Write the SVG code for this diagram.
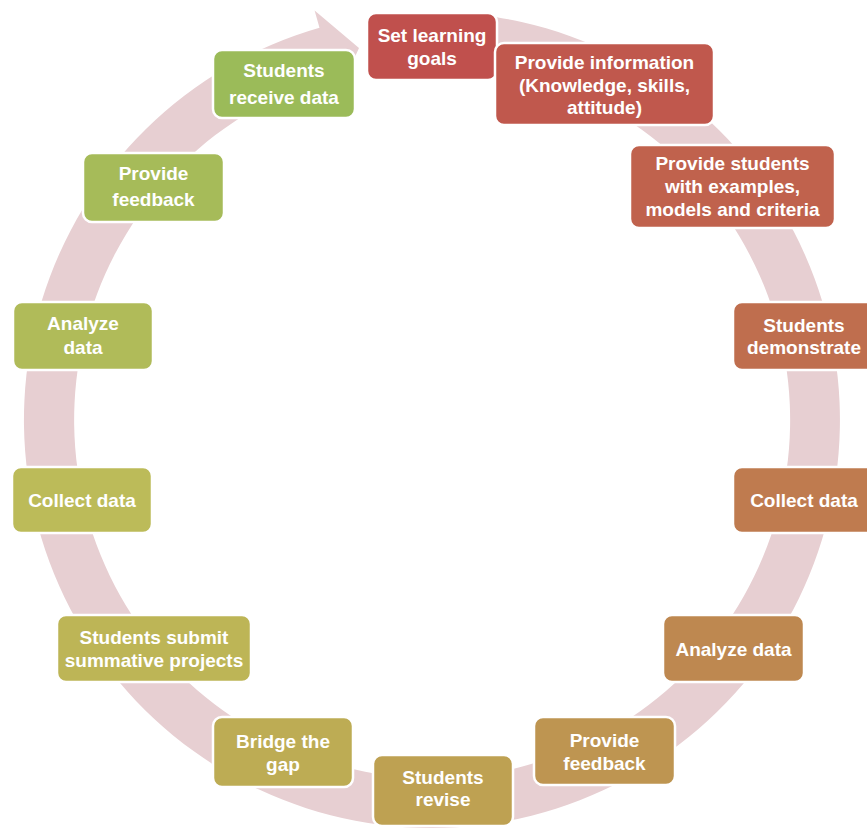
<svg xmlns="http://www.w3.org/2000/svg" width="867" height="829" viewBox="0 0 867 829">
<style>
.box{stroke:#ffffff;stroke-width:2.5}
.t{font-family:"Liberation Sans",Arial,sans-serif;font-weight:bold;font-size:19px;fill:#ffffff;text-anchor:middle}
</style>
<rect width="867" height="829" fill="#ffffff"/>
<g id="connectors">
<path d="M 446.2 12.25 A 408 408 0 1 1 319.5 27.8 L 314.6 10.5 L 359 48 L 338.3 93.2 L 333.3 75.9 A 358 358 0 1 0 444.5 62.2 Z" fill="#E7CFD2"/>
</g>
<g id="n1"><rect class="box" x="367" y="13" width="130" height="67" rx="9" fill="#C0504D"/><text class="t" x="432" y="42">Set learning</text><text class="t" x="432" y="65">goals</text></g>
<g id="n2"><rect class="box" x="495" y="43" width="219" height="82" rx="9" fill="#C0584D"/><text class="t" x="604.5" y="69">Provide information</text><text class="t" x="604.5" y="92">(Knowledge, skills,</text><text class="t" x="604.5" y="114">attitude)</text></g>
<g id="n3"><rect class="box" x="630" y="145" width="205" height="83" rx="9" fill="#C0624D"/><text class="t" x="732.5" y="170">Provide students</text><text class="t" x="732.5" y="193">with examples,</text><text class="t" x="732.5" y="216">models and criteria</text></g>
<g id="n4"><rect class="box" x="733" y="302" width="142" height="68" rx="9" fill="#BF6E4E"/><text class="t" x="804" y="332">Students</text><text class="t" x="804" y="354">demonstrate</text></g>
<g id="n5"><rect class="box" x="733" y="467" width="142" height="66" rx="9" fill="#BF7B4F"/><text class="t" x="804" y="507">Collect data</text></g>
<g id="n6"><rect class="box" x="663" y="615" width="141" height="67" rx="9" fill="#BE8850"/><text class="t" x="733.5" y="656">Analyze data</text></g>
<g id="n7"><rect class="box" x="534" y="717" width="141" height="68" rx="9" fill="#BE9551"/><text class="t" x="604.5" y="747">Provide</text><text class="t" x="604.5" y="770">feedback</text></g>
<g id="n8"><rect class="box" x="373" y="755" width="140" height="71" rx="9" fill="#BEA152"/><text class="t" x="443" y="784">Students</text><text class="t" x="443" y="806">revise</text></g>
<g id="n9"><rect class="box" x="213" y="717" width="140" height="70" rx="9" fill="#BDAC54"/><text class="t" x="283" y="748">Bridge the</text><text class="t" x="283" y="771">gap</text></g>
<g id="n10"><rect class="box" x="57" y="615" width="194" height="67" rx="9" fill="#BDB556"/><text class="t" x="154" y="644">Students submit</text><text class="t" x="154" y="667">summative projects</text></g>
<g id="n11"><rect class="box" x="12" y="467" width="140" height="66" rx="9" fill="#BCBB59"/><text class="t" x="82" y="507">Collect data</text></g>
<g id="n12"><rect class="box" x="13" y="302" width="140" height="68" rx="9" fill="#B0BB59"/><text class="t" x="83" y="330">Analyze</text><text class="t" x="83" y="354">data</text></g>
<g id="n13"><rect class="box" x="83" y="153" width="141" height="69" rx="9" fill="#A6BB59"/><text class="t" x="153.5" y="180">Provide</text><text class="t" x="153.5" y="206">feedback</text></g>
<g id="n14"><rect class="box" x="213" y="50" width="142" height="68" rx="9" fill="#9BBB59"/><text class="t" x="284" y="77">Students</text><text class="t" x="284" y="104">receive data</text></g>
</svg>
